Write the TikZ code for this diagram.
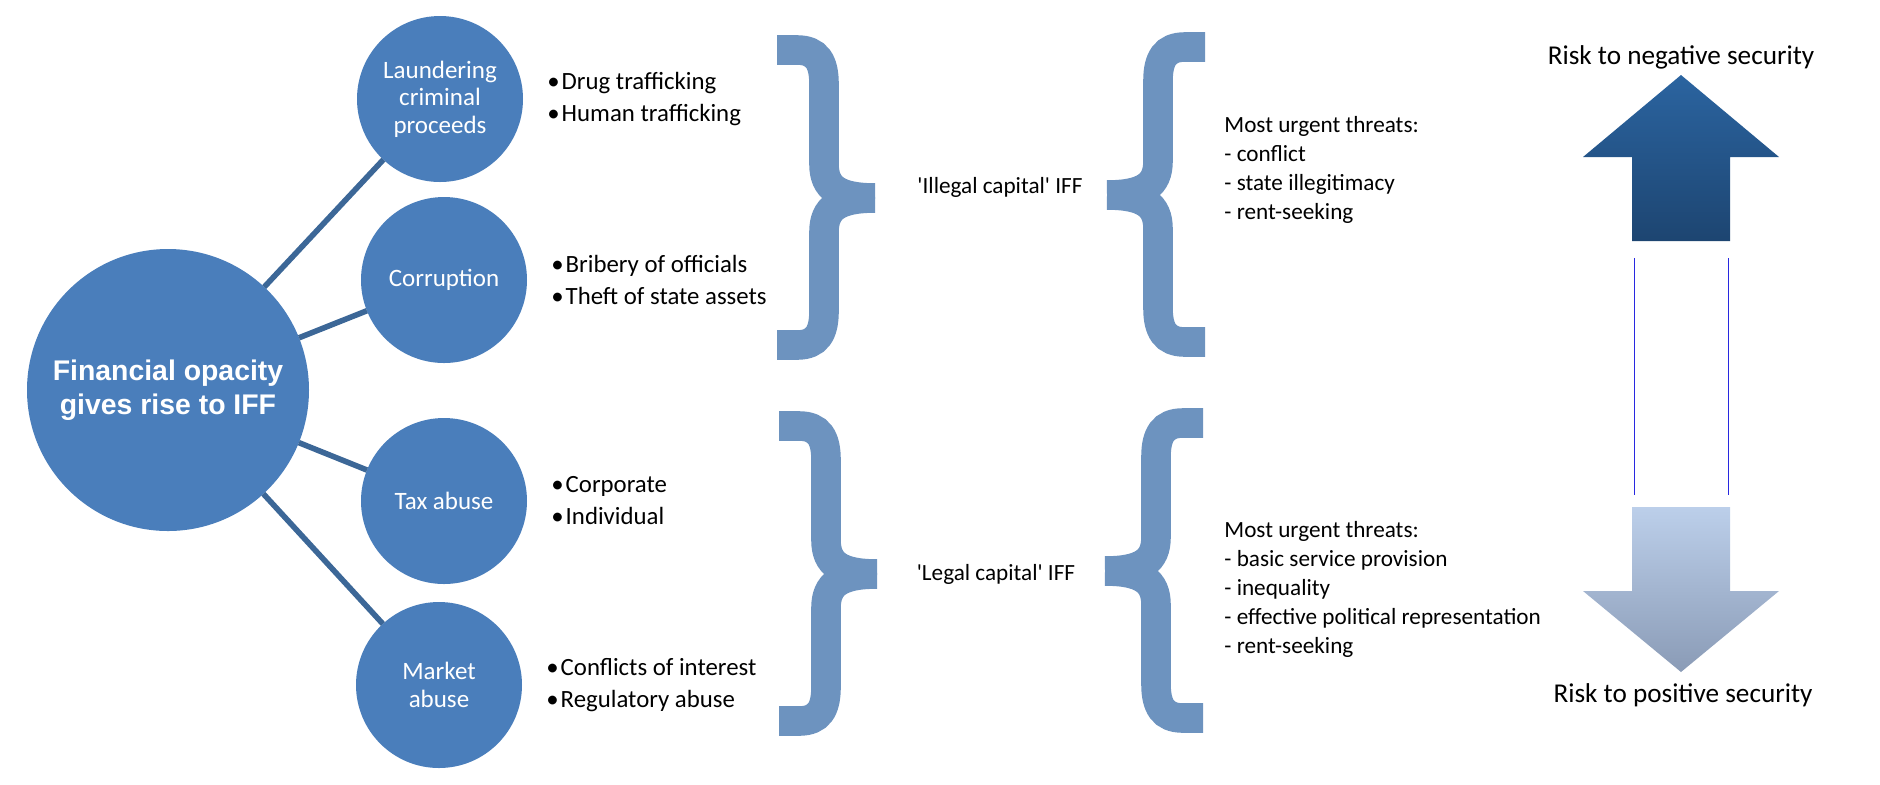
\documentclass[tikz,border=0pt]{standalone}
\usepackage{fontspec}
\setmainfont{Carlito}
\newfontfamily\headfont{Liberation Sans}
\usepackage{tikz}
\usetikzlibrary{positioning, calc}
\usepackage{xcolor}

\definecolor{circblue}{HTML}{4A7EBB}
\definecolor{linkblue}{HTML}{3C6797}
\definecolor{braceblue}{HTML}{6D93BF}
\definecolor{uptop}{HTML}{2B64A0}
\definecolor{upbot}{HTML}{1D4571}
\definecolor{downtop}{HTML}{BCCFEA}
\definecolor{downbot}{HTML}{8A9BB6}
\definecolor{rulecol}{HTML}{2828E0}

\begin{document}
\begin{tikzpicture}[x=0.5pt, y=-0.5pt,
  topic/.style={circle, fill=circblue, text=white, minimum size=83pt, inner sep=0pt, outer sep=0pt, align=center, font=\fontsize{12.5}{13.75}\selectfont},
  items/.style={align=left, inner sep=0pt, font=\fontsize{12.4}{16}\selectfont},
  link/.style={linkblue, line width=2.8pt},
  bracestroke/.style={braceblue, line width=14.8pt},
  plain/.style={inner sep=0pt, font=\fontsize{11.6}{14.5}\selectfont}]
  \useasboundingbox (0,0) rectangle (1880,784);

  % Source
  \node[circle, fill=circblue, text=white, minimum size=141pt, inner sep=0pt, outer sep=0pt, align=center, font=\headfont\bfseries\fontsize{14.2}{17}\selectfont] (opacity) at (168,390) {Financial opacity\\gives rise to IFF};

  % Channels
  \node[topic] (laund) at (440,99) {Laundering\\criminal\\proceeds};
  \node[topic] (corrupt) at (444,280) {Corruption};
  \node[topic] (tax) at (444,501) {Tax abuse};
  \node[topic] (market) at (439,685) {Market\\abuse};

  % Examples
  \node[items, right=12pt of laund] (launditems) {\textbullet\hspace{1pt}Drug trafficking\\\textbullet\hspace{1pt}Human trafficking};
  \node[items, right=12pt of corrupt] (corruptitems) {\textbullet\hspace{1pt}Bribery of officials\\\textbullet\hspace{1pt}Theft of state assets};
  \node[items, right=12pt of tax] (taxitems) {\textbullet\hspace{1pt}Corporate\\\textbullet\hspace{1pt}Individual};
  \node[items, right=12pt of market] (marketitems) {\textbullet\hspace{1pt}Conflicts of interest\\\textbullet\hspace{1pt}Regulatory abuse};

  % Links
  \draw[link] (opacity) -- (laund);
  \draw[link] (opacity) -- (corrupt);
  \draw[link] (opacity) -- (tax);
  \draw[link] (opacity) -- (market);

  % Braces
  \foreach \sx/\dx/\dy in {1/0/0, 1/2/376, -1/1982/-3, -1/1980/373} {
    \begin{scope}[shift={(\dx,\dy)}, xscale=\sx]
      \draw[bracestroke] (777,50) -- (797,50) .. controls (817,50) and (824,62) .. (824,84) -- (824,164) .. controls (824,188) and (838,198) .. (875,198);
      \draw[bracestroke] (777,345) -- (797,345) .. controls (817,345) and (824,333) .. (824,311) -- (824,232) .. controls (824,208) and (838,198) .. (875,198);
    \end{scope}
  }

  % Flows
  \node[plain] (illegal) at (1000,187) {\textquotesingle Illegal capital\textquotesingle{} IFF};
  \node[plain] (legal) at (996,574) {\textquotesingle Legal capital\textquotesingle{} IFF};

  % Threats
  \node[plain, align=left, anchor=west] (threatsA) at (1224,170) {Most urgent threats:\\- conflict\\- state illegitimacy\\- rent-seeking};
  \node[plain, align=left, anchor=west] (threatsB) at (1224,589) {Most urgent threats:\\- basic service provision\\- inequality\\- effective political representation\\- rent-seeking};

  % Scale
  \shade[top color=uptop, bottom color=upbot] (1681,75) -- (1779,157) -- (1730,157) -- (1730,241) -- (1632,241) -- (1632,157) -- (1583,157) -- cycle;
  \shade[top color=downtop, bottom color=downbot] (1632,507) -- (1730,507) -- (1730,591) -- (1779,591) -- (1681,672) -- (1583,591) -- (1632,591) -- cycle;
  \coordinate (upL) at (1634,258);
  \coordinate (upR) at (1728,258);
  \coordinate (downL) at (1634,495);
  \coordinate (downR) at (1728,495);
  \draw[rulecol, line width=0.4pt] (upL) -- (downL);
  \draw[rulecol, line width=0.4pt] (upR) -- (downR);
  \node[font=\fontsize{13.6}{16}\selectfont, inner sep=0pt] (negrisk) at (1681,57) {Risk to negative security};
  \node[font=\fontsize{13.6}{16}\selectfont, inner sep=0pt] (posrisk) at (1683,695) {Risk to positive security};
\end{tikzpicture}
\end{document}
